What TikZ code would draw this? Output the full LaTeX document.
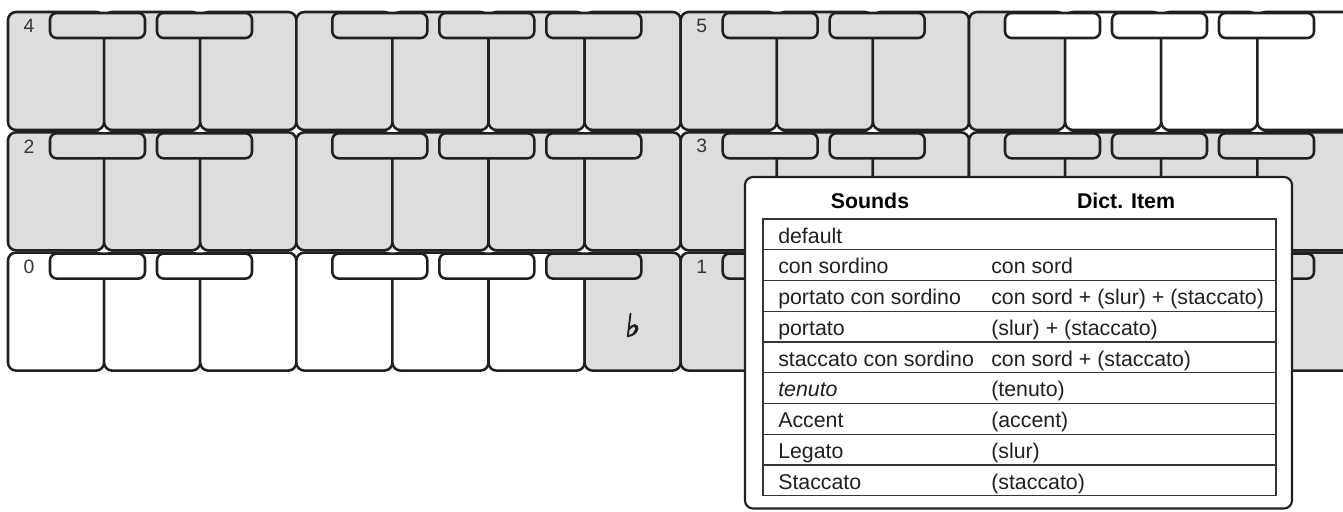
\documentclass[tikz,border=0pt]{standalone}
\usepackage{fontspec}
\setmainfont{Liberation Sans}
\newfontfamily\flatfont[FakeBold=3,FakeSlant=0.12]{DejaVu Sans}
\usepackage{xcolor}
\usetikzlibrary{positioning}

\definecolor{keygrey}{RGB}{220,221,223}
\definecolor{ink}{RGB}{35,31,32}

% one octave: x, y, label, cell fills (7), pad fills (5)
\newcommand{\drawoctave}[5]{%
  \foreach [count=\i from 0] \f in {#4}
    \draw[cell, fill=\f] ({#1+\i*96.1},#2) rectangle ++(96.1,118);
  \foreach [count=\i from 0] \f in {#5} {
    \pgfmathsetmacro{\po}{{42,149,324.3,431.3,538.3}[\i]}
    \draw[pad, fill=\f] ({#1+\po},{#2+1}) rectangle ++(95,25);
  }
  \node[octlabel] (oct#3) at ({#1+21},{#2+14}) {#3};
}

\begin{document}
\begin{tikzpicture}[
    x=0.75pt, y=-0.75pt,
    cell/.style={draw=ink, line width=1.9pt, rounded corners=6pt},
    pad/.style={draw=ink, line width=1.9pt, rounded corners=5pt},
    octlabel/.style={text=ink!90, font=\fontsize{14.5}{16}\selectfont, inner sep=0pt},
    tablebox/.style={draw=ink, line width=1.6pt, fill=white, rounded corners=6pt},
    rule/.style={draw=ink!90, line width=0.9pt},
    head/.style={font=\fontsize{16}{19}\selectfont\bfseries, anchor=base, inner sep=0pt},
    entry/.style={font=\fontsize{16}{19}\selectfont, text=ink, anchor=base west, inner sep=0pt},
  ]
  \useasboundingbox (0,0) rectangle (1343,511);
  \clip (0,0) rectangle (1343,511);

  % keyboard rows
  \drawoctave{8}{12}{4}{keygrey,keygrey,keygrey,keygrey,keygrey,keygrey,keygrey}{keygrey,keygrey,keygrey,keygrey,keygrey}
  \drawoctave{680.7}{12}{5}{keygrey,keygrey,keygrey,keygrey,white,white,white}{keygrey,keygrey,white,white,white}
  \drawoctave{8}{132.3}{2}{keygrey,keygrey,keygrey,keygrey,keygrey,keygrey,keygrey}{keygrey,keygrey,keygrey,keygrey,keygrey}
  \drawoctave{680.7}{132.3}{3}{keygrey,keygrey,keygrey,keygrey,keygrey,keygrey,keygrey}{keygrey,keygrey,keygrey,keygrey,keygrey}
  \drawoctave{8}{252.6}{0}{white,white,white,white,white,white,keygrey}{white,white,white,white,keygrey}
  \drawoctave{680.7}{252.6}{1}{keygrey,keygrey,keygrey,keygrey,keygrey,keygrey,keygrey}{keygrey,keygrey,keygrey,keygrey,keygrey}

  \node[text=ink, font=\flatfont\fontsize{24}{26}\selectfont] (flatsign) at (632,325) {♭};

  % legend
  \draw[tablebox] (745,177) rectangle (1292,508.5);
  \node[head] (hsounds) at (870,208) {Sounds};
  \node[head] (hdict) at (1126,208) {Dict. Item};
  \draw[rule] (763,219) rectangle (1276,495.75);
  \foreach \k in {1,...,8}
    \draw[rule] (763,{219+\k*30.75}) -- (1276,{219+\k*30.75});

  \node[entry] (snd0) at (778,243) {default};
  \foreach \s/\d [count=\k] in {con sordino/con sord,
      portato con sordino/con sord + (slur) + (staccato),
      portato/(slur) + (staccato),
      staccato con sordino/con sord + (staccato),
      \textit{tenuto}/(tenuto),
      Accent/(accent),
      Legato/(slur),
      Staccato/(staccato)} {
    \node[entry] (snd\k) at (778,{243+\k*30.75}) {\s};
    \node[entry] (dict\k) at (991,{243+\k*30.75}) {\d};
  }
\end{tikzpicture}
\end{document}
